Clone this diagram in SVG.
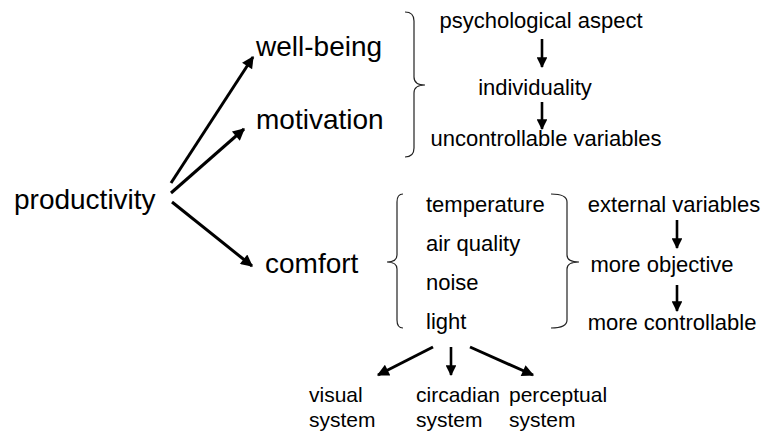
<svg xmlns="http://www.w3.org/2000/svg" width="766" height="432" viewBox="0 0 766 432">
  <style>
    text { font-family: "Liberation Sans", Arial, sans-serif; fill: #000; }
    .big { font-size: 28px; }
    .sm { font-size: 22px; }
    .xs { font-size: 21px; }
    .mid { text-anchor: middle; }
    .arrow { stroke: #000; stroke-width: 3; fill: none; }
    .down { stroke: #000; stroke-width: 2.6; fill: none; }
    .brace { stroke: #222; stroke-width: 1.2; fill: none; }
  </style>
  <defs>
    <marker id="head" viewBox="0 0 10 10" refX="9" refY="5" markerWidth="5" markerHeight="4" markerUnits="strokeWidth" orient="auto">
      <path d="M0,0 L10,5 L0,10 z" fill="#000"/>
    </marker>
    <marker id="headSm" viewBox="0 0 10 10" refX="9" refY="5" markerWidth="4.8" markerHeight="4.2" markerUnits="strokeWidth" orient="auto">
      <path d="M0,0 L10,5 L0,10 z" fill="#000"/>
    </marker>
  </defs>

  <rect width="766" height="432" fill="#fff"/>

  <!-- main concepts -->
  <g id="productivity"><text class="big" x="14" y="209">productivity</text></g>
  <g id="well-being"><text class="big" x="256" y="56">well-being</text></g>
  <g id="motivation"><text class="big" x="256" y="129">motivation</text></g>
  <g id="comfort"><text class="big" x="265" y="273">comfort</text></g>

  <!-- psychological chain -->
  <g id="psychological-aspect"><text class="sm mid" x="541" y="28">psychological aspect</text></g>
  <g id="individuality"><text class="sm mid" x="535" y="95">individuality</text></g>
  <g id="uncontrollable-variables"><text class="sm mid" x="546" y="146">uncontrollable variables</text></g>

  <!-- comfort factors -->
  <g id="temperature"><text class="sm" x="426" y="212">temperature</text></g>
  <g id="air-quality"><text class="sm" x="426" y="251">air quality</text></g>
  <g id="noise"><text class="sm" x="426" y="290">noise</text></g>
  <g id="light"><text class="sm" x="426" y="329">light</text></g>

  <!-- external chain -->
  <g id="external-variables"><text class="sm mid" x="674" y="212">external variables</text></g>
  <g id="more-objective"><text class="sm mid" x="662" y="272">more objective</text></g>
  <g id="more-controllable"><text class="sm mid" x="672" y="330">more controllable</text></g>

  <!-- light effects -->
  <g id="visual-system"><text class="xs" x="309" y="402">visual</text><text class="xs" x="309" y="427">system</text></g>
  <g id="circadian-system"><text class="xs" x="416" y="402">circadian</text><text class="xs" x="416" y="427">system</text></g>
  <g id="perceptual-system"><text class="xs" x="509" y="402">perceptual</text><text class="xs" x="509" y="427">system</text></g>

  <!-- braces -->
  <g id="braces">
    <path class="brace" d="M405,12 Q414,12 414,21 L414,77 Q414,85 425,85 Q414,85 414,93 L414,148 Q414,157 405,157"/>
    <path class="brace" d="M403,194 Q397,194 397,202 L397,255 Q397,262 387,262 Q397,262 397,269 L397,320 Q397,328 403,328"/>
    <path class="brace" d="M551,194 Q567,194 567,202 L567,255 Q567,262 579,262 Q567,262 567,269 L567,320 Q567,328 551,328"/>
  </g>

  <!-- connectors -->
  <g id="connectors">
    <line class="arrow" x1="171" y1="183" x2="253" y2="57" marker-end="url(#head)"/>
    <line class="arrow" x1="171" y1="193" x2="244" y2="129" marker-end="url(#head)"/>
    <line class="arrow" x1="172" y1="202" x2="252" y2="266" marker-end="url(#head)"/>

    <line class="down" x1="542" y1="39" x2="542" y2="67" marker-end="url(#headSm)"/>
    <line class="down" x1="542" y1="102" x2="542" y2="129" marker-end="url(#headSm)"/>
    <line class="down" x1="677" y1="220" x2="677" y2="248" marker-end="url(#headSm)"/>
    <line class="down" x1="677" y1="285" x2="677" y2="311" marker-end="url(#headSm)"/>

    <line class="arrow" x1="433" y1="347" x2="378" y2="375" marker-end="url(#head)"/>
    <line class="down" x1="451" y1="347" x2="451" y2="375" marker-end="url(#headSm)"/>
    <line class="arrow" x1="470" y1="347" x2="533" y2="375" marker-end="url(#head)"/>
  </g>
</svg>
